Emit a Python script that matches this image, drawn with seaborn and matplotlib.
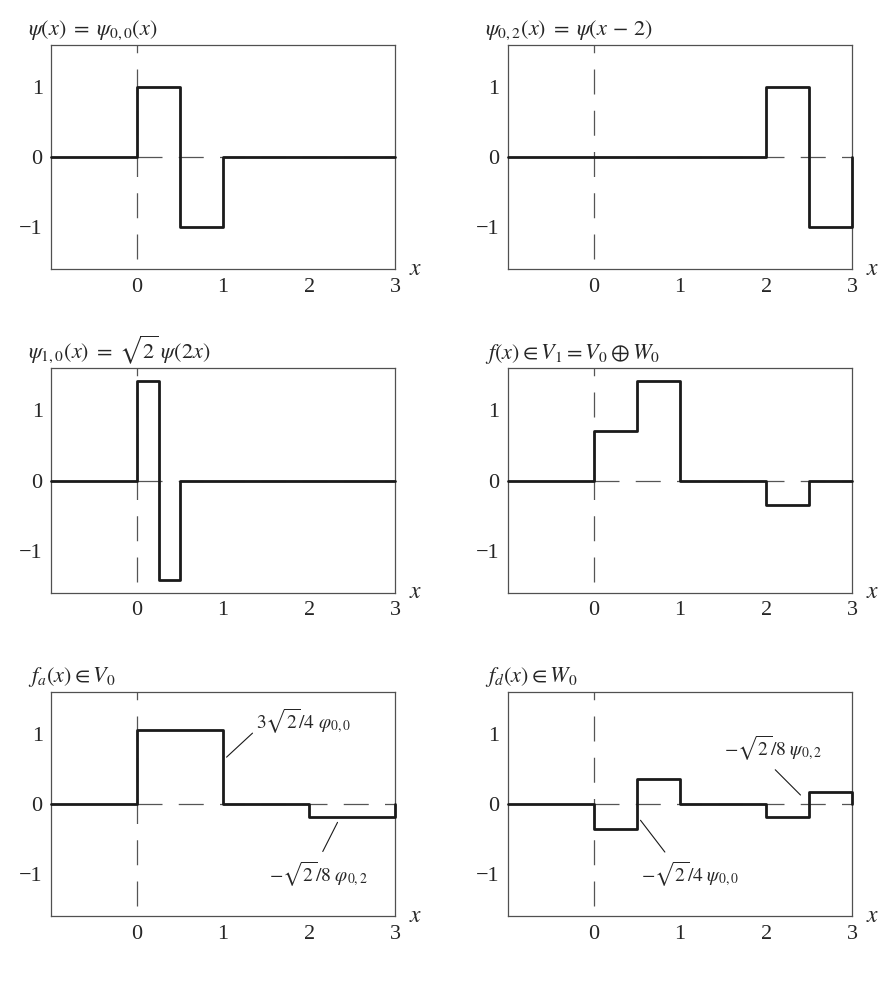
import matplotlib
matplotlib.use("Agg")
import matplotlib.pyplot as plt
import seaborn as sns
import pandas as pd


##################################################
# Data (step functions)
##################################################

x_psi = [-1, 0, 0.5, 1, 3]
y_psi = [0, 1, -1, 0, 0]

x_psi02 = [-1, 2, 2.5, 3]
y_psi02 = [0, 1, -1, 0]

x_psi10 = [-1, 0, 0.25, 0.5, 3]
y_psi10 = [0, 1.414, -1.414, 0, 0]

x_f = [-1, 0, 0.5, 1, 2, 2.5, 3]
y_f = [0, 0.707, 1.414, 0, -0.354, 0, 0]

x_fa = [-1, 0, 1, 2, 3]
y_fa = [0, 1.061, 0, -0.177, 0]

x_fd = [-1, 0, 0.5, 1, 2, 2.5, 3]
y_fd = [0, -0.354, 0.354, 0, -0.177, 0.177, 0]

titles = [
    r"$\psi(x)\;=\;\psi_{0,0}(x)$",
    r"$\psi_{0,2}(x)\;=\;\psi(x\,-\,2)$",
    r"$\psi_{1,0}(x)\;=\;\sqrt{2}\;\psi(2x)$",
    r"$f(x) \in V_1 = V_0 \oplus W_0$",
    r"$f_a(x) \in V_0$",
    r"$f_d(x) \in W_0$",
]

x_ticks = [0, 1, 2, 3]
y_ticks = [-1, 0, 1]

series = [
    (x_psi, y_psi),
    (x_psi02, y_psi02),
    (x_psi10, y_psi10),
    (x_f, y_f),
    (x_fa, y_fa),
    (x_fd, y_fd),
]


##################################################
# Style
##################################################

sns.set_style("white")
plt.rcParams["font.family"] = ["Liberation Serif", "DejaVu Serif"]
plt.rcParams["mathtext.fontset"] = "stix"
plt.rcParams["axes.edgecolor"] = "#505050"
plt.rcParams["axes.linewidth"] = 0.9

fig, axes = plt.subplots(3, 2, figsize=(8.96, 9.96), dpi=100)
fig.subplots_adjust(left=0.057, right=0.951, top=0.955, bottom=0.080,
                    wspace=0.328, hspace=0.442)

dash = (0, (20, 13))

for ax, (xs, ys), title in zip(axes.flat, series, titles):
    ax.axvline(0, ymin=0.047, ymax=1, color="#555555", lw=0.9,
               linestyle=dash, zorder=1)
    ax.plot([0, 3], [0, 0], color="#555555", lw=0.9,
            linestyle=dash, zorder=1)

    df = pd.DataFrame({"x": xs, "y": ys})
    sns.lineplot(data=df, x="x", y="y", ax=ax, estimator=None, sort=False,
                 drawstyle="steps-post", color="#1a1a1a", linewidth=2.0,
                 zorder=3, clip_on=False)

    ax.set_xlim(-1, 3)
    ax.set_ylim(-1.6, 1.6)
    ax.set_xticks(x_ticks)
    ax.set_yticks(y_ticks)
    ax.tick_params(length=0, labelsize=16)
    ax.tick_params(axis="x", pad=6)
    ax.tick_params(axis="y", pad=6)
    ax.set_xlabel("")
    ax.set_ylabel("")
    ax.text(1.04, 0.0, r"$x$", transform=ax.transAxes, ha="left",
            va="center", fontsize=17)
    ax.text(-0.068, 1.012, title, transform=ax.transAxes, ha="left",
            va="bottom", fontsize=16)


##################################################
# Annotations on the decomposition panels
##################################################

ann = dict(arrowstyle="-", lw=0.8, color="#1a1a1a", shrinkB=0)

ax_a = axes[2, 0]
ax_a.annotate(r"$3\sqrt{2}/4\ \varphi_{0,0}$", xy=(1.04, 0.67),
              xytext=(1.38, 1.18), fontsize=14, ha="left", va="center",
              arrowprops=dict(ann, relpos=(0, 0.2), shrinkA=0))
ax_a.annotate(r"$-\sqrt{2}/8\ \varphi_{0,2}$", xy=(2.33, -0.26),
              xytext=(2.11, -1.0), fontsize=14, ha="center", va="center",
              arrowprops=dict(ann, relpos=(0.5, 1), shrinkA=4))

ax_d = axes[2, 1]
ax_d.annotate(r"$-\sqrt{2}/8\ \psi_{0,2}$", xy=(2.40, 0.13),
              xytext=(2.08, 0.8), fontsize=14, ha="center", va="center",
              arrowprops=dict(ann, relpos=(0.45, 0), shrinkA=4))
ax_d.annotate(r"$-\sqrt{2}/4\ \psi_{0,0}$", xy=(0.54, -0.23),
              xytext=(1.12, -1.0), fontsize=14, ha="center", va="center",
              arrowprops=dict(ann, relpos=(0.3, 1), shrinkA=4))

plt.savefig("out.png", dpi=100)
plt.close()
